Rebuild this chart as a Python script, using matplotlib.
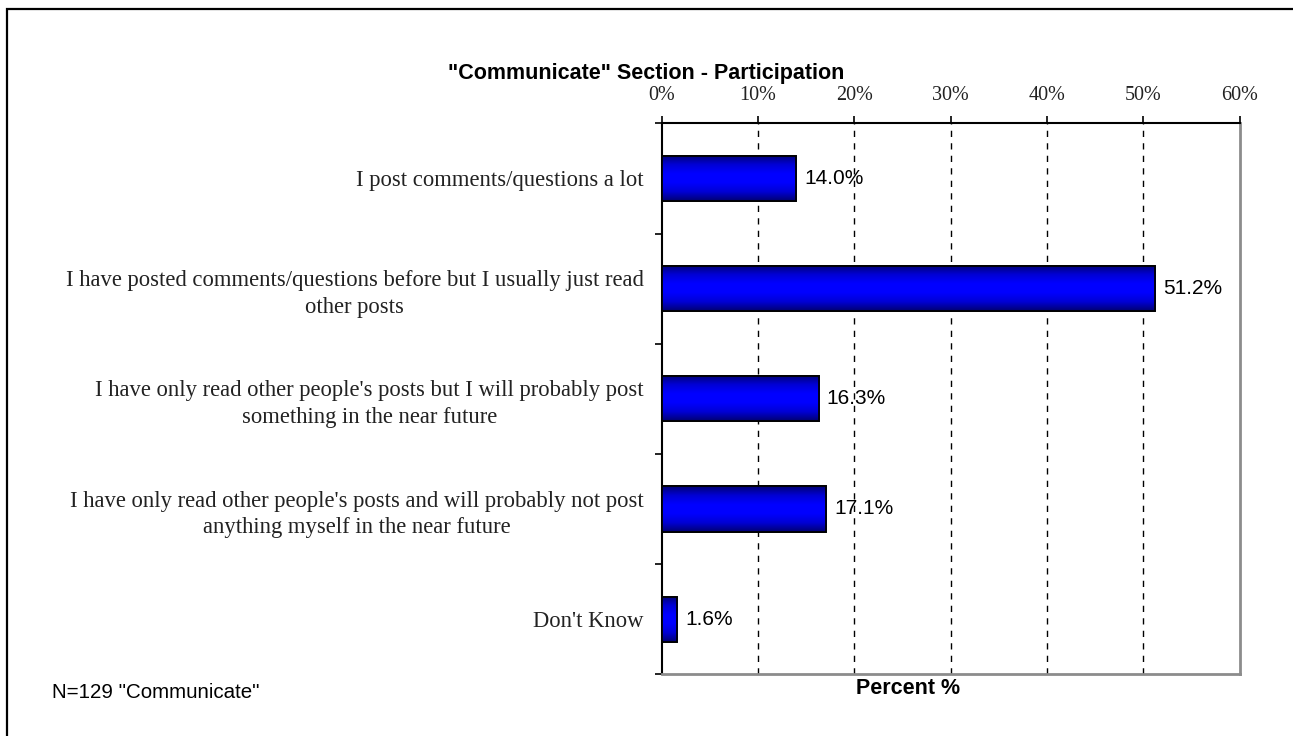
import numpy as np
import matplotlib
matplotlib.use("Agg")
import matplotlib.pyplot as plt
from matplotlib.colors import LinearSegmentedColormap
from matplotlib.patches import Rectangle

categories = [
    "I post comments/questions a lot",
    "I have posted comments/questions before but I usually just read\nother posts",
    "I have only read other people's posts but I will probably post\nsomething in the near future",
    "I have only read other people's posts and will probably not post\nanything myself in the near future",
    "Don't Know",
]
percent = [14.0, 51.2, 16.3, 17.1, 1.6]
xticks = [0, 10, 20, 30, 40, 50, 60]
xtick_labels = ["0%", "10%", "20%", "30%", "40%", "50%", "60%"]

W, H = 1293, 736
fig = plt.figure(figsize=(W / 100, H / 100), dpi=100)
fig.patch.set_facecolor("white")

# outer frame (only left/top edges fall inside the canvas)
fig.add_artist(Rectangle((7 / W, -0.1), 1.2, 1 - 9 / H + 0.1, transform=fig.transFigure,
                         fill=False, edgecolor="black", linewidth=1.6))

ax = fig.add_axes([661.5 / W, 1 - 674.3 / H, (1239.7 - 661.5) / W, (674.3 - 123.3) / H])

n = len(categories)
y = np.arange(n)
bar_h = 0.41
bars = ax.barh(y, percent, height=bar_h, color="#0000ff", edgecolor="black",
               linewidth=1.3, zorder=3)

# vertical shading inside each bar: navy edges, bright blue centre
cmap = LinearSegmentedColormap.from_list(
    "barshade", ["#000070", "#0000d4", "#0000ff", "#0000ff", "#0000d4", "#000070"])
grad = np.linspace(0, 1, 256).reshape(-1, 1)
for rect in bars:
    x0, y0 = rect.get_x(), rect.get_y()
    w, h = rect.get_width(), rect.get_height()
    im = ax.imshow(grad, cmap=cmap, aspect="auto", interpolation="bilinear",
                   extent=(x0, x0 + w, y0 + h, y0), zorder=3.5)
    im.set_clip_path(rect)
    edge = Rectangle((x0, y0), w, h, fill=False, edgecolor="black", linewidth=1.3, zorder=4)
    ax.add_patch(edge)

ax.set_xlim(0, 60)
ax.set_ylim(n - 0.5, -0.5)

# value labels
for yi, v in zip(y, percent):
    ax.text(v + 0.85, yi, f"{v:.1f}%", va="center", ha="left",
            fontsize=15, family="Liberation Sans", color="black", zorder=5)

# x axis on top
ax.xaxis.tick_top()
ax.set_xticks(xticks)
ax.set_xticklabels(xtick_labels, family="Liberation Serif", fontsize=14.5, color="#222222")
ax.tick_params(axis="x", which="major", direction="out", length=5, width=1.2,
               pad=8, color="black", top=True, bottom=False)

# dashed vertical gridlines
for gx in xticks[1:-1]:
    ax.axvline(gx, color="black", linewidth=1.0, linestyle=(0, (4.5, 4.5)), zorder=1)

# y axis: category labels at centres, tick marks at boundaries
ax.set_yticks(y)
ax.set_yticklabels(categories, family="Liberation Serif", fontsize=16.3, color="#222222")
for lbl in ax.get_yticklabels():
    lbl.set_multialignment("center")
    lbl.set_linespacing(1.35)
ax.tick_params(axis="y", which="major", length=0, pad=13)
ax.set_yticks(np.arange(-0.5, n, 1.0), minor=True)
ax.tick_params(axis="y", which="minor", direction="out", length=5, width=1.2, color="black")

for side in ("left", "top"):
    ax.spines[side].set_color("black")
    ax.spines[side].set_linewidth(1.5)
for side in ("right", "bottom"):
    ax.spines[side].set_color("#8c8c8c")
    ax.spines[side].set_linewidth(2.0)

# titles and notes
fig.text(646 / W, 1 - 73 / H, "\"Communicate\" Section - Participation", ha="center", va="center",
         fontsize=15.5, fontweight="bold", family="Liberation Sans")
fig.text(908 / W, 1 - 689 / H, "Percent %", ha="center", va="center",
         fontsize=15.5, fontweight="bold", family="Liberation Sans")
fig.text(52 / W, 1 - 693 / H, "N=129 \"Communicate\"", ha="left", va="center",
         fontsize=14.8, family="Liberation Sans")

fig.savefig("out.png", dpi=100)
